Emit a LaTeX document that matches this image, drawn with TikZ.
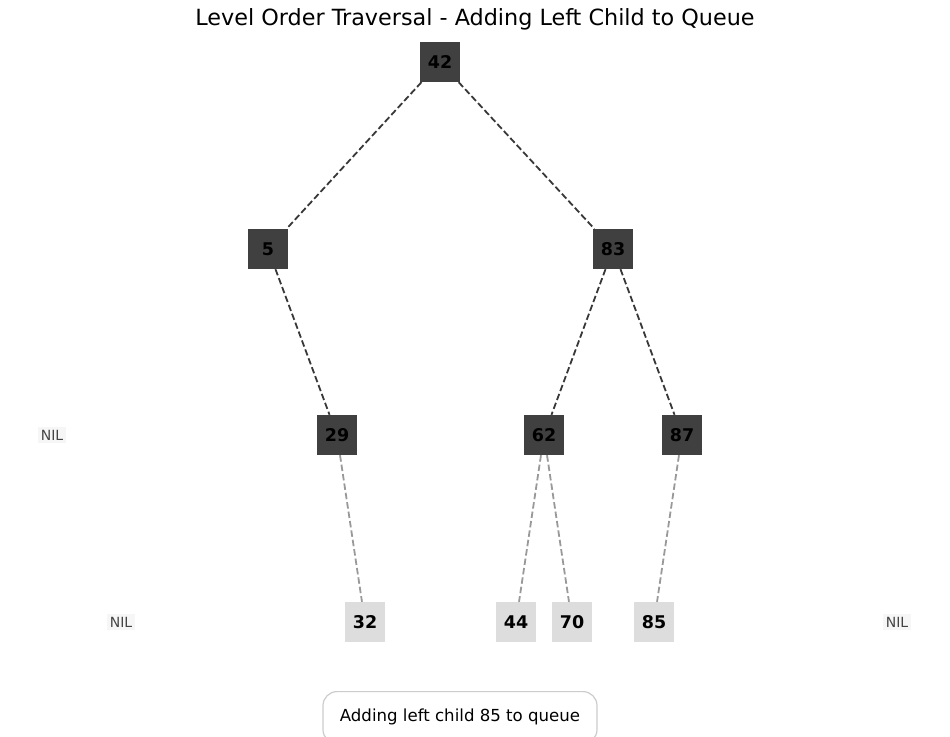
\documentclass[tikz,border=0pt]{standalone}
\usepackage{fontspec}
\setmainfont{DejaVu Sans}
\begin{document}
\begin{tikzpicture}[x=1pt,y=-1pt,
  treenode/.style={draw=none,minimum width=40pt,minimum height=40pt,inner sep=0pt,font=\fontsize{17.5}{20}\selectfont\bfseries},
  visited/.style={treenode,fill=nodedark},
  pending/.style={treenode,fill=nodelight},
  nilnode/.style={fill=nilfill,inner sep=3pt,text=niltext,font=\fontsize{14}{16}\selectfont},
  darkedge/.style={draw=edgedark,line width=1.8pt,dash pattern=on 6.5pt off 3pt},
  lightedge/.style={draw=edgelight,line width=1.8pt,dash pattern=on 6.5pt off 3pt}]
\definecolor{nodedark}{HTML}{404040}
\definecolor{nodelight}{HTML}{DDDDDD}
\definecolor{nilfill}{HTML}{F6F6F6}
\definecolor{niltext}{HTML}{444444}
\definecolor{edgedark}{HTML}{383838}
\definecolor{edgelight}{HTML}{999999}
\definecolor{capborder}{HTML}{CCCCCC}
\useasboundingbox (0,0) rectangle (950,736);
\node[font=\fontsize{22.3}{26}\selectfont] (title) at (475,19.5) {Level Order Traversal - Adding Left Child to Queue};
% nodes
\node[visited] (n42) at (440,62) {42};
\node[visited] (n5) at (268,249) {5};
\node[visited] (n83) at (613,249) {83};
\node[visited] (n29) at (337,435) {29};
\node[visited] (n62) at (544,435) {62};
\node[visited] (n87) at (682,435) {87};
\node[pending] (n32) at (365,622) {32};
\node[pending] (n44) at (516,622) {44};
\node[pending] (n70) at (572,622) {70};
\node[pending] (n85) at (654,622) {85};
\node[nilnode] (nil1) at (52,435) {NIL};
\node[nilnode] (nil2) at (121,622) {NIL};
\node[nilnode] (nil3) at (897,622) {NIL};
% edges
\draw[darkedge] (n42) -- (n5);
\draw[darkedge] (n42) -- (n83);
\draw[darkedge] (n5) -- (n29);
\draw[darkedge] (n83) -- (n62);
\draw[darkedge] (n83) -- (n87);
\draw[lightedge] (n29) -- (n32);
\draw[lightedge] (n62) -- (n44);
\draw[lightedge] (n62) -- (n70);
\draw[lightedge] (n87) -- (n85);
% caption
\node[draw=capborder,line width=1.2pt,fill=white,rounded corners=14pt,minimum width=274pt,minimum height=52pt,anchor=north] (cap) at (460,691) {};
\node[font=\fontsize{16.6}{19}\selectfont] (captext) at (460,716.5) {Adding left child 85 to queue};
\end{tikzpicture}
\end{document}
